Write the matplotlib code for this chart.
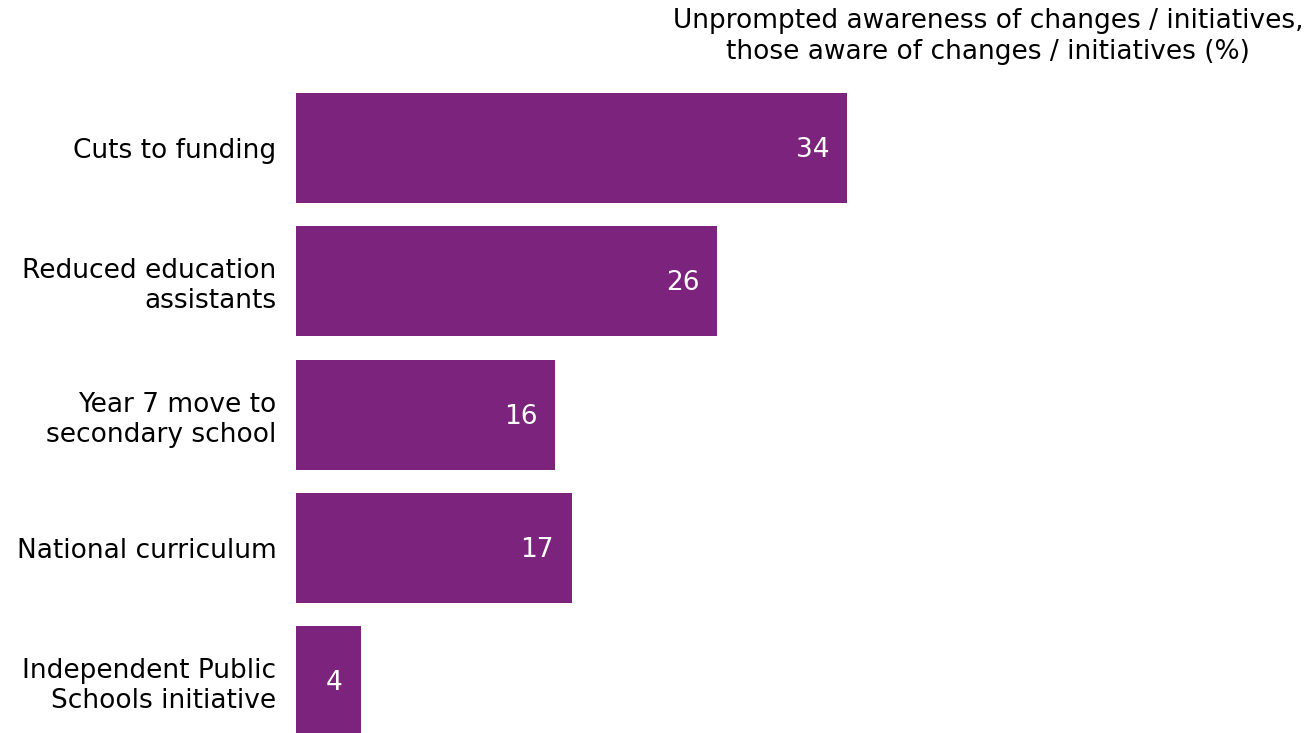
import matplotlib
matplotlib.use("Agg")
import matplotlib.pyplot as plt

categories = [
    "Cuts to funding",
    "Reduced education\nassistants",
    "Year 7 move to\nsecondary school",
    "National curriculum",
    "Independent Public\nSchools initiative",
]
values = [34, 26, 16, 17, 4]
title = "Unprompted awareness of changes / initiatives,\nthose aware of changes / initiatives (%)"

BAR_COLOR = "#7B237D"
W, H = 1314, 733
FS = 19

fig = plt.figure(figsize=(W / 100, H / 100), dpi=100)
plt.rcParams["font.family"] = ["DejaVu Sans"]

# axes placed in pixel terms: x=0 at 296px, 34 at 847px
xmax = 60
px_per_unit = (847 - 296) / 34
ax_left = 296 / W
ax_width = xmax * px_per_unit / W
ax_top_px = 80
ax = fig.add_axes([ax_left, 0, ax_width, (H - ax_top_px) / H])

pos = list(range(len(categories)))
ax.barh(pos, values, height=0.825, color=BAR_COLOR)

pitch = 133.3
ax.set_ylim((H - 148) / pitch, (ax_top_px - 148) / pitch)
ax.set_xlim(0, xmax)

for p, v in zip(pos, values):
    ax.annotate(str(v), xy=(v, p), xytext=(-18, -2), textcoords="offset pixels",
                ha="right", va="center", color="white", fontsize=FS)

ax.set_yticks(pos)
ax.set_yticklabels(categories, fontsize=FS, linespacing=1.2)
ax.tick_params(axis="y", length=0, pad=14)
ax.set_xticks([])
for s in ax.spines.values():
    s.set_visible(False)

fig.text(988 / W, 1 - 8 / H, title, ha="center", va="top", fontsize=FS,
         linespacing=1.25)

fig.savefig("out.png", dpi=100)
